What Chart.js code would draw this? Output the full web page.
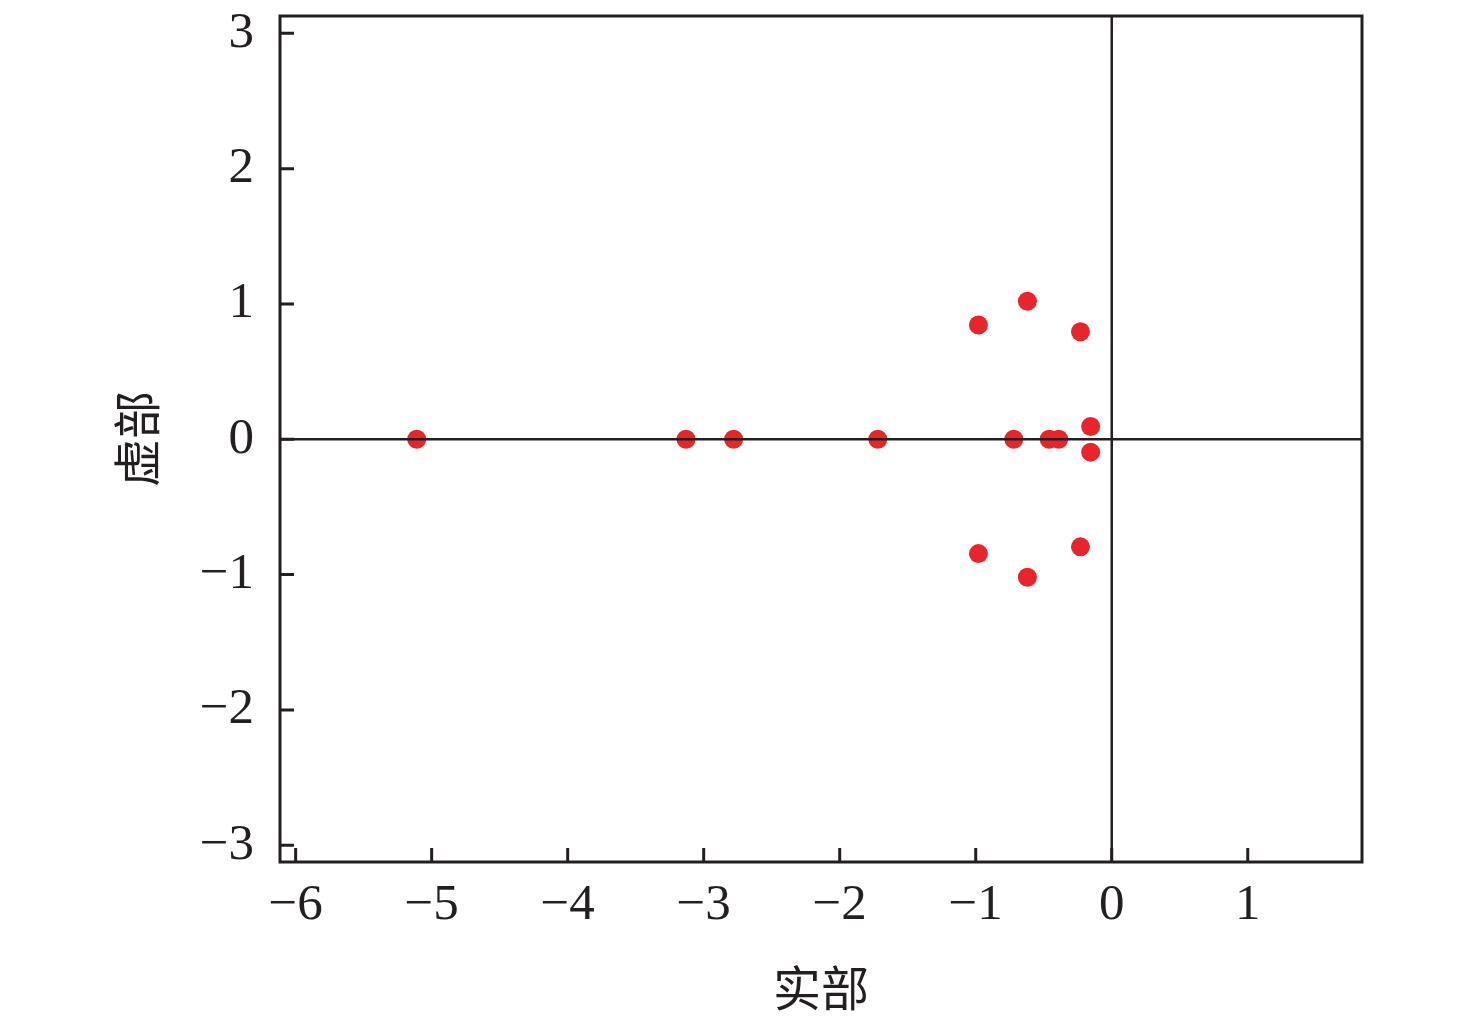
<!DOCTYPE html>
<html>
<head>
<meta charset="utf-8">
<script src="https://cdn.jsdelivr.net/npm/chart.js@4/dist/chart.umd.min.js"></script>
<style>
  body { margin: 0; background: #fff; }
</style>
</head>
<body>
<canvas id="myChart" width="1476" height="1030"></canvas>
<script>
// poles: real and imaginary parts
const realPart = [-5.11, -3.13, -2.78, -1.72, -0.72, -0.46, -0.39, -0.155, -0.155, -0.98, -0.98, -0.62, -0.62, -0.23, -0.23];
const imagPart = [0, 0, 0, 0, 0, 0, 0, 0.095, -0.095, 0.845, -0.845, 1.02, -1.02, 0.795, -0.795];

// tick labels
const xTicks = [-6, -5, -4, -3, -2, -1, 0, 1];
const yTicks = [-3, -2, -1, 0, 1, 2, 3];

const xTitle = "实部";
const yTitle = "虚部";

const points = realPart.map((x, i) => ({ x: x, y: imagPart[i] }));

const fmt = (v) => (v < 0 ? "\u2212" + Math.abs(v) : String(v));

// frame, inward ticks and zero lines, drawn over the points
const framePlugin = {
  id: "frame",
  afterDatasetsDraw(chart) {
    const { ctx, chartArea: a, scales } = chart;
    const x = scales.x;
    const y = scales.y;
    ctx.save();
    ctx.strokeStyle = "#231f20";

    ctx.lineWidth = 2.5;
    const x0 = x.getPixelForValue(0);
    const y0 = y.getPixelForValue(0);
    ctx.beginPath();
    ctx.moveTo(x0, a.top);
    ctx.lineTo(x0, a.bottom);
    ctx.moveTo(a.left, y0);
    ctx.lineTo(a.right, y0);
    ctx.stroke();

    ctx.lineWidth = 3;
    ctx.beginPath();
    x.ticks.forEach((t) => {
      const px = x.getPixelForValue(t.value);
      ctx.moveTo(px, a.bottom);
      ctx.lineTo(px, a.bottom - 14);
    });
    y.ticks.forEach((t) => {
      const py = y.getPixelForValue(t.value);
      ctx.moveTo(a.left, py);
      ctx.lineTo(a.left + 14, py);
    });
    ctx.stroke();

    ctx.strokeRect(a.left, a.top, a.right - a.left, a.bottom - a.top);
    ctx.restore();
  },
};

const tickFont = { family: "'Liberation Serif', 'DejaVu Serif', serif", size: 51 };
const titleFont = { family: "'Noto Sans CJK SC', sans-serif", size: 48 };

const config = {
  type: "scatter",
  data: {
    datasets: [
      {
        data: points,
        backgroundColor: "#e8252b",
        borderWidth: 0,
        pointRadius: 9.5,
        pointHoverRadius: 9.5,
      },
    ],
  },
  options: {
    responsive: false,
    animation: false,
    devicePixelRatio: 1,
    layout: { padding: { top: 16, right: 114, bottom: 0, left: 0 } },
    plugins: { legend: { display: false }, tooltip: { enabled: false } },
    scales: {
      x: {
        type: "linear",
        min: -6.115,
        max: 1.84,
        afterBuildTicks: (s) => { s.ticks = xTicks.map((v) => ({ value: v })); },
        afterFit: (s) => { s.height = 168; s.paddingLeft = 0; s.paddingRight = 0; },
        grid: { display: false, drawTicks: false },
        border: { display: false },
        ticks: { color: "#231f20", font: tickFont, padding: 13, maxRotation: 0, callback: fmt },
        title: { display: true, text: xTitle, color: "#231f20", font: titleFont, padding: { top: 0, bottom: 13 } },
      },
      y: {
        type: "linear",
        min: -3.124,
        max: 3.128,
        afterBuildTicks: (s) => { s.ticks = yTicks.map((v) => ({ value: v })); },
        afterFit: (s) => { s.width = 280; s.paddingTop = 0; s.paddingBottom = 0; },
        grid: { display: false, drawTicks: false },
        border: { display: false },
        ticks: { color: "#231f20", font: tickFont, padding: 26, callback: fmt },
        title: { display: true, text: yTitle, color: "#231f20", font: titleFont, padding: { top: 108, bottom: 0 } },
      },
    },
  },
  plugins: [framePlugin],
};

const myChart = new Chart(document.getElementById("myChart"), config);
</script>
</body>
</html>
